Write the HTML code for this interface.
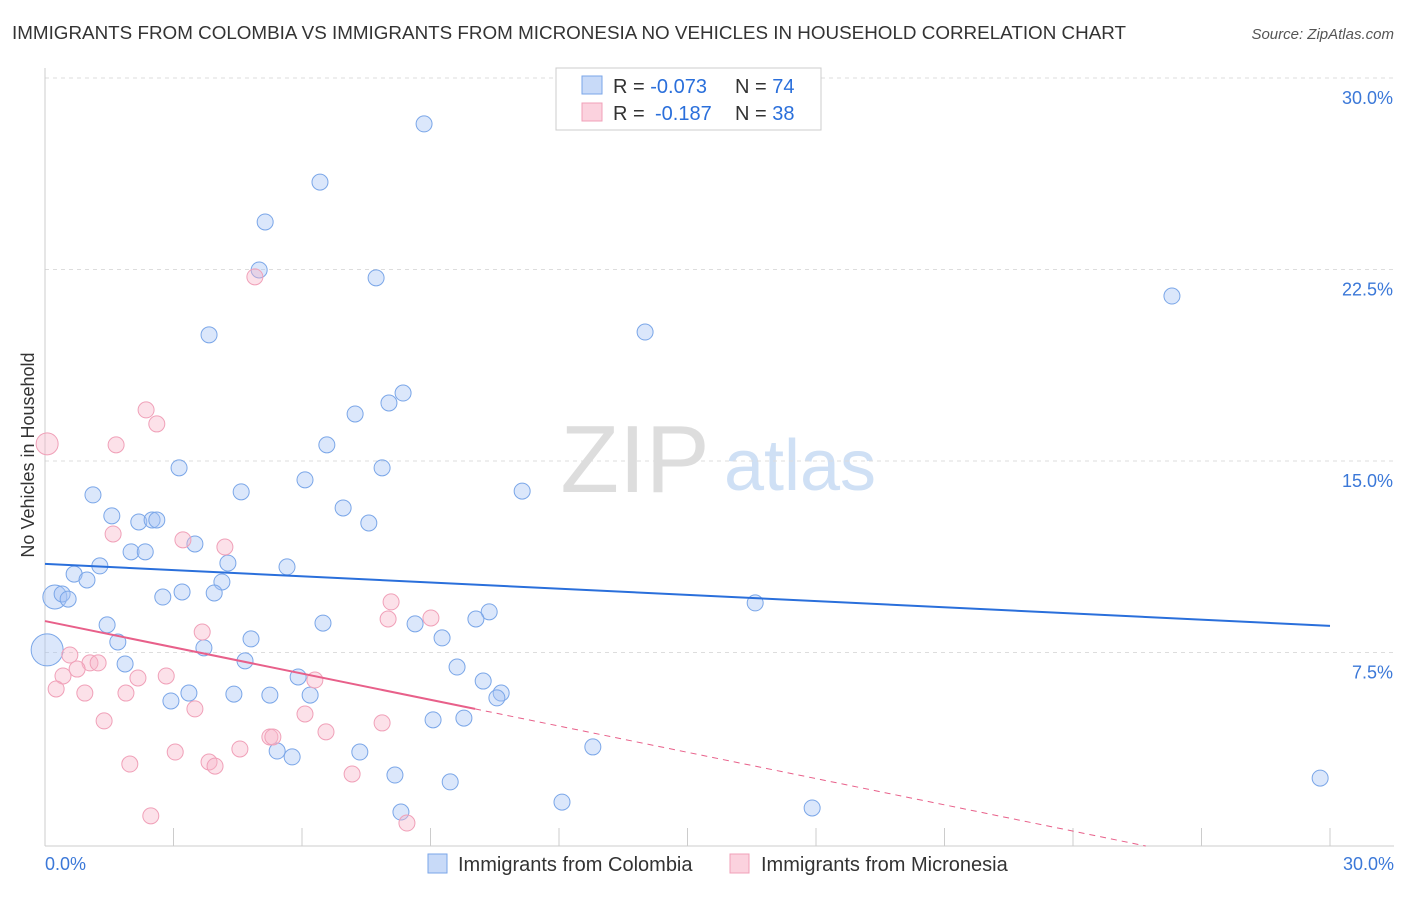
<!DOCTYPE html>
<html><head><meta charset="utf-8"><style>
body{margin:0;background:#fff;font-family:"Liberation Sans",sans-serif;}
svg text{font-family:"Liberation Sans",sans-serif;}
</style></head><body>
<svg id="chart" width="1406" height="892" viewBox="0 0 1406 892">
<text x="12" y="39" font-size="18" fill="#333" textLength="1114" lengthAdjust="spacingAndGlyphs">IMMIGRANTS FROM COLOMBIA VS IMMIGRANTS FROM MICRONESIA NO VEHICLES IN HOUSEHOLD CORRELATION CHART</text>
<text x="1394" y="39" font-size="15" fill="#555" font-style="italic" text-anchor="end">Source: ZipAtlas.com</text>
<g>
<text x="635" y="492" font-size="96" fill="#ddd" font-family="Liberation Serif" text-anchor="middle">ZIP</text>
<text x="800" y="490" font-size="72" fill="#cfe0f5" text-anchor="middle">atlas</text>
</g>
<g id="grid"></g>
<g id="axes"></g>
<text transform="translate(34,455) rotate(-90)" font-size="18" fill="#333" text-anchor="middle">No Vehicles in Household</text>
<g id="marks"></g>
<g>
<rect x="556" y="68" width="265" height="62" fill="#fff" stroke="#ccc"/>
<rect x="582" y="76" width="20" height="18" fill="rgba(164,194,244,0.6)" stroke="#7aa6e8"/>
<rect x="582" y="103" width="20" height="18" fill="rgba(248,180,200,0.6)" stroke="#f0a0b8"/>
<text x="613" y="93" font-size="20" fill="#333">R = <tspan fill="#2a6fdb">-0.073</tspan><tspan x="735">N = </tspan><tspan fill="#2a6fdb">74</tspan></text>
<text x="613" y="120" font-size="20" fill="#333">R = <tspan fill="#2a6fdb" x="655">-0.187</tspan><tspan x="735">N = </tspan><tspan fill="#2a6fdb">38</tspan></text>
</g>
<g>
<rect x="428" y="854" width="19" height="19" fill="rgba(164,194,244,0.6)" stroke="#7aa6e8"/>
<text x="458" y="871" font-size="20" fill="#333">Immigrants from Colombia</text>
<rect x="730" y="854" width="19" height="19" fill="rgba(248,180,200,0.6)" stroke="#f0a0b8"/>
<text x="761" y="871" font-size="20" fill="#333">Immigrants from Micronesia</text>
</g>
</svg>
<script>
const yTicks=[7.5,15,22.5,30];
const yTickLabels=["7.5%","15.0%","22.5%","30.0%"];
const xTicks=[0,3,6,9,12,15,18,21,24,27,30];
const colX=[8.85,6.42,5.14,5.0,7.73,3.83,14.01,26.31,8.36,8.03,7.24,6.58,3.13,7.87,6.07,4.58,11.14,1.12,6.96,1.56,2.19,2.5,2.61,7.56,3.5,2.01,2.34,1.28,4.27,5.65,0.68,0.98,4.13,3.2,2.75,3.95,0.23,0.4,0.54,16.58,10.37,10.06,6.49,8.64,1.45,9.27,4.81,1.7,3.71,0.05,4.67,1.87,9.62,5.91,10.23,3.36,4.41,5.25,6.19,10.65,10.55,2.94,9.06,9.78,12.79,7.35,5.42,5.77,8.17,9.46,29.77,12.07,17.91,8.31];
const colY=[28.28,26.0,24.44,22.56,22.25,20.02,20.13,21.54,17.74,17.35,16.92,15.71,14.81,14.81,14.34,13.87,13.9,13.75,13.24,12.93,12.69,12.77,12.77,12.65,11.83,11.52,11.52,10.97,11.08,10.93,10.65,10.42,10.34,9.95,9.75,9.91,9.75,9.87,9.67,9.52,9.17,8.89,8.73,8.7,8.66,8.15,8.11,7.99,7.76,7.68,7.25,7.13,7.01,6.62,6.46,5.99,5.95,5.91,5.91,5.99,5.8,5.68,4.94,5.01,3.88,3.68,3.72,3.49,2.78,2.51,2.66,1.72,1.49,1.33];
const colSize=[8,8,8,8,8,8,8,8,8,8,8,8,8,8,8,8,8,8,8,8,8,8,8,8,8,8,8,8,8,8,8,8,8,8,8,8,12,8,8,8,8,8,8,8,8,8,8,8,8,16,8,8,8,8,8,8,8,8,8,8,8,8,8,8,8,8,8,8,8,8,8,8,8,8];
const micX=[4.9,2.36,2.61,0.05,1.66,1.59,3.22,4.2,8.08,8.01,9.01,3.67,0.58,1.05,1.24,0.75,0.42,2.17,2.83,6.3,0.26,0.93,1.89,3.5,6.07,1.38,7.87,6.56,5.25,5.32,4.55,3.04,3.83,3.97,1.98,7.17,2.47,8.45];
const micY=[22.29,17.08,16.53,15.75,15.71,12.22,11.99,11.71,9.56,8.89,8.93,8.38,7.48,7.17,7.17,6.93,6.66,6.58,6.66,6.5,6.15,5.99,5.99,5.37,5.17,4.9,4.82,4.47,4.27,4.27,3.8,3.68,3.29,3.13,3.21,2.82,1.18,0.9];
const colTrend=[11.05,8.62];
const micTrend=[8.81,5.37,10.04,25.7];
const NS="http://www.w3.org/2000/svg";
const X0=45,X1=1330,Y0=846,Y1=80;
const sx=v=>X0+(v/30)*(X1-X0);
const sy=v=>Y0-(v/30)*(Y0-Y1);
function mk(tag,attrs,parent){const e=document.createElementNS(NS,tag);for(const k in attrs)e.setAttribute(k,attrs[k]);parent.appendChild(e);return e;}
const grid=document.getElementById('grid'),axes=document.getElementById('axes'),marks=document.getElementById('marks');
yTicks.forEach((t,i)=>{
 const l=mk('line',{x1:X0,x2:1394,y1:sy(t)-2,y2:sy(t)-2,stroke:'#ddd','stroke-dasharray':'4,4'},grid);
 
 
 const tx=mk('text',{x:1393,y:sy(t)+24,'font-size':18,fill:'#3b78d8','text-anchor':'end'},axes);
 tx.textContent=yTickLabels[i];
 
 
});
const ax=mk('line',{x1:X0,x2:X0,y1:68,y2:Y0,stroke:'#ccc'},axes);


const bx=mk('line',{x1:X0,x2:1394,y1:Y0,y2:Y0,stroke:'#ccc'},axes);


xTicks.forEach(t=>{
 const l=mk('line',{x1:sx(t),x2:sx(t),y1:828,y2:Y0,stroke:'#ccc'},axes);
 
 
});
const xl0=mk('text',{x:45,y:870,'font-size':18,fill:'#3b78d8'},axes);xl0.textContent='0.0%';


const xl1=mk('text',{x:1394,y:870,'font-size':18,fill:'#3b78d8','text-anchor':'end'},axes);xl1.textContent='30.0%';


colX.forEach((v,i)=>{
 const c=mk('circle',{cx:sx(v),cy:sy(colY[i]),r:colSize[i],fill:'rgba(164,194,244,0.4)',stroke:'#7aa6e8','stroke-width':1},marks);
 
 
});
micX.forEach((v,i)=>{
 const r=(v<0.1)?11:8;
 const c=mk('circle',{cx:sx(v),cy:sy(micY[i]),r:r,fill:'rgba(248,180,200,0.4)',stroke:'#f0a0b8','stroke-width':1},marks);
 
 
});
const tl=mk('line',{x1:sx(0),y1:sy(colTrend[0]),x2:sx(30),y2:sy(colTrend[1]),stroke:'#2a6fdb','stroke-width':2},marks);


const pt=mk('line',{x1:sx(0),y1:sy(micTrend[0]),x2:sx(micTrend[2]),y2:sy(micTrend[1]),stroke:'#e8608a','stroke-width':2},marks);


const pd=mk('line',{x1:sx(micTrend[2]),y1:sy(micTrend[1]),x2:sx(micTrend[3]),y2:sy(0),stroke:'#e8608a','stroke-width':1,'stroke-dasharray':'6,5'},marks);


</script>
</body></html>
